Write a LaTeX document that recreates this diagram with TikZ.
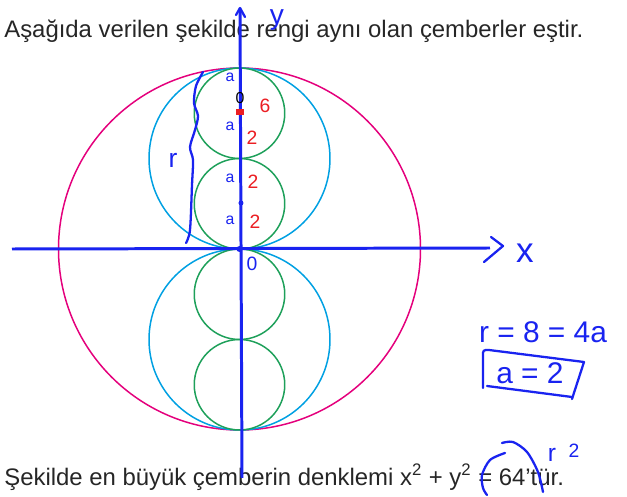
\documentclass[tikz,border=0pt]{standalone}
\usepackage{fontspec}
\setmainfont{Liberation Sans}
\usetikzlibrary{positioning}
\definecolor{bigpink}{RGB}{228,0,124}
\definecolor{midcyan}{RGB}{0,160,226}
\definecolor{smallgreen}{RGB}{30,160,90}
\definecolor{penblue}{RGB}{25,35,240}
\definecolor{penred}{RGB}{235,30,35}

\begin{document}
\begin{tikzpicture}[
  x=0.02cm, y=-0.02cm,
  ring/.style    = {line width=0.85pt},
  axis/.style    = {draw=penblue, line width=1.7pt},
  pen/.style     = {draw=penblue, line width=1.3pt, line cap=round, line join=round},
  printed/.style = {anchor=base west, inner sep=0pt, text=black!85,
                    font=\fontsize{13.6}{16}\selectfont},
  note/.style    = {inner sep=0pt, text=penblue, font=\fontsize{9}{10}\selectfont},
  rednote/.style = {inner sep=0pt, text=penred, font=\fontsize{11}{12}\selectfont},
  bignote/.style = {inner sep=0pt, text=penblue, font=\fontsize{17}{19}\selectfont},
]
  \useasboundingbox (0,0) rectangle (627,497);

  \node[printed] (question) at (4,37) {Aşağıda verilen şekilde rengi aynı olan çemberler eştir.};
  \node[printed] (answer) at (4,485) {Şekilde en büyük çemberin denklemi x\textsuperscript{2} + y\textsuperscript{2} = 64’tür.};

  % circles
  \coordinate (O) at (239.5,249);
  \draw[ring, bigpink] (O) circle[radius=181];
  \foreach \cy in {158.5,339.5}
    \draw[ring, midcyan] (239.5,\cy) circle[radius=90.5];
  \foreach \cy in {113.25,203.75,294.25,384.75}
    \draw[ring, smallgreen] (239.5,\cy) circle[radius=45.25];

  % axes
  \coordinate (xleft)   at (12,249);
  \coordinate (xright)  at (490,248);
  \coordinate (ytop)    at (240,8);
  \coordinate (ybottom) at (242,478);
  \draw[axis] (xleft) -- (xright);
  \draw[axis] (ybottom) -- (ytop);
  \draw[pen] (491,237) -- (503,246) -- (484,262);
  \draw[pen] (236,15) -- (ytop) -- (245,17);
  \node[bignote, font=\fontsize{20}{22}\selectfont] (xlab) at (525,253) {x};
  \node[bignote, font=\fontsize{16}{18}\selectfont] (ylab) at (277,20) {y};

  % marks on the y-axis
  \fill[penblue] (O) circle[radius=3];
  \fill[penblue] (241,203) circle[radius=2.5];
  \fill[penred] (236,109) rectangle (244,115);
  \node[note] (a1) at (230,77)  {a};
  \node[note] (a2) at (230,126) {a};
  \node[note] (a3) at (230,178) {a};
  \node[note] (a4) at (230,220) {a};
  \node[note, text=black] (zero) at (240,98) {0};
  \node[rednote] (six) at (265,106) {6};
  \node[rednote] (two1) at (252,138) {2};
  \node[rednote] (two2) at (253,182) {2};
  \node[rednote] (two3) at (255,222) {2};
  \node[note, font=\fontsize{11}{12}\selectfont] (origin) at (252,264) {0};

  % brace and radius
  \draw[pen] plot[smooth] coordinates {(203,72) (196,86) (194,103) (198,116) (195,130)
    (190,147) (193,160) (192,185) (190,230) (186,243)};
  \node[bignote, font=\fontsize{15}{16}\selectfont] (rlab) at (173,160) {r};

  % working on the right
  \node[bignote] (rline) at (543,332) {r = 8 = 4a};
  \node[bignote] (aline) at (530,373) {a = 2};
  \draw[pen] (483,388) -- (483,356) .. controls (483,350) .. (489,350) -- (584,362) -- (572,399);
  \draw[pen] (487,386) -- (572,397);

  % circled equals sign and r^2
  \draw[pen] plot[smooth] coordinates {(505,453) (490,460) (482,475) (483,488) (487,495)};
  \draw[pen] plot[smooth] coordinates {(502,443) (513,442) (527,452) (538,472) (543,492)};
  \node[bignote, font=\fontsize{14}{15}\selectfont] (rsq) at (552,455) {r};
  \node[bignote, font=\fontsize{11}{12}\selectfont] (sq) at (574,451) {2};
\end{tikzpicture}
\end{document}
